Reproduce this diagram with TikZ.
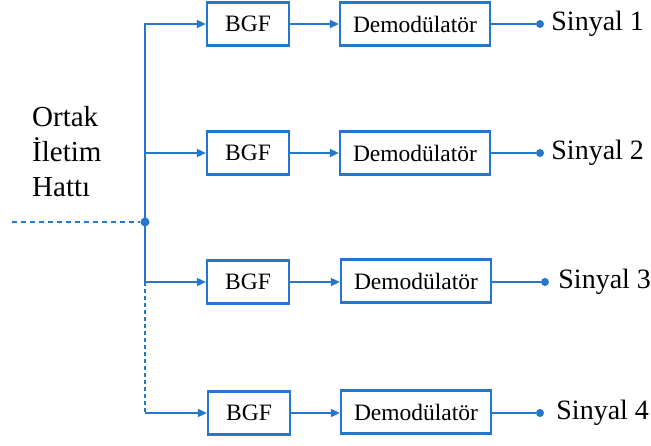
\documentclass[tikz,border=0pt]{standalone}
\usepackage{fontspec}
\setmainfont{Liberation Serif}
\usetikzlibrary{arrows.meta}
\definecolor{linkblue}{RGB}{35,120,205}
\begin{document}
\begin{tikzpicture}[x=1pt,y=-1pt,
  block/.style={draw=linkblue, line width=2.2pt, minimum height=43pt,
    inner sep=0pt, text=black, font=\fontsize{23.5}{27}\selectfont},
  bgf/.style={block, minimum width=82pt},
  demod/.style={block, minimum width=150pt},
  wire/.style={draw=linkblue, line width=1.7pt},
  feed/.style={wire, -{Triangle[length=9pt,width=8pt]}},
  tap/.style={circle, fill=linkblue, inner sep=0pt, minimum size=8pt},
  siglabel/.style={anchor=west, inner sep=0pt, text=black,
    font=\fontsize{28}{32}\selectfont},
]
\useasboundingbox (0,0) rectangle (651,445);

% channel label
\node[anchor=north west, align=left, inner sep=0pt,
  font=\fontsize{29}{35}\selectfont] (title) at (32,106)
  {Ortak\\İletim\\Hattı};

% band-pass filters and demodulators
\node[bgf] (bgf1) at (248,24) {BGF};
\node[bgf] (bgf2) at (248,153) {BGF};
\node[bgf] (bgf3) at (248,282) {BGF};
\node[bgf] (bgf4) at (249,413) {BGF};

\node[demod] (dem1) at (415,24) {Demodülatör};
\node[demod] (dem2) at (415,153) {Demodülatör};
\node[demod] (dem3) at (416,281) {Demodülatör};
\node[demod] (dem4) at (416,412) {Demodülatör};

% output terminals
\node[tap] (o1) at (540,24) {};
\node[tap] (o2) at (540,153) {};
\node[tap] (o3) at (545,282) {};
\node[tap] (o4) at (540,413) {};

\node[siglabel] (s1) at ([xshift=7pt]o1.east) {Sinyal 1};
\node[siglabel] (s2) at ([xshift=7pt]o2.east) {Sinyal 2};
\node[siglabel] (s3) at ([xshift=9pt]o3.east) {Sinyal 3};
\node[siglabel] (s4) at ([xshift=12pt]o4.east) {Sinyal 4};

% common line input and distribution bus
\coordinate (in) at (12,222);
\node[tap, minimum size=9pt] (j) at (145,222) {};
\draw[wire, dash pattern=on 5pt off 4pt] (in) -- (j);

\draw[feed] (j.center) |- (bgf1.west);
\draw[feed] (j.center) |- (bgf2.west);
\draw[feed] (j.center) |- (bgf3.west);
\coordinate (b3) at (j |- bgf3.west);
\coordinate (b4) at (j |- bgf4.west);
\draw[wire, dash pattern=on 4pt off 3pt] (b3) -- (b4);
\draw[feed] (b4) -- (bgf4.west);

% filter to demodulator, demodulator to output
\foreach \i in {1,2,3,4}{
  \draw[feed] (bgf\i.east) -- (dem\i.west |- bgf\i.east);
  \draw[wire] (dem\i.east |- o\i) -- (o\i);
}
\end{tikzpicture}
\end{document}
